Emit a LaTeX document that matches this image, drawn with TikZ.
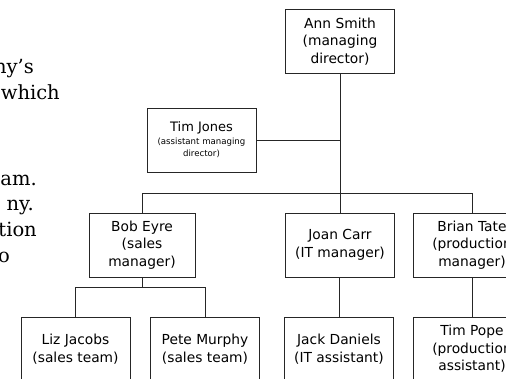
\documentclass[tikz,border=0pt]{standalone}
\usepackage{fontspec}
\newfontfamily\orgfont{DejaVu Sans}
\newfontfamily\pagefont{DejaVu Serif}
\usetikzlibrary{positioning}
\tikzset{
    person/.style = {rectangle, draw=black!85, line width=0.8pt, align=center, inner sep=0pt,
                     minimum width=109pt, minimum height=64pt, font=\orgfont\fontsize{13.8}{17.5}\selectfont},
    personw/.style = {person, minimum width=118pt},
    personsmall/.style = {person, font=\orgfont\fontsize{8.6}{12}\selectfont},
    link/.style = {draw=black!85, line width=0.8pt},
    pagetext/.style = {anchor=base east, inner sep=0pt, font=\pagefont\fontsize{19.5}{26}\selectfont}
}
\begin{document}
\begin{tikzpicture}[x=1pt, y=-1pt]
  \useasboundingbox (0,0) rectangle (506,378);
  \clip (0,0) rectangle (506,378);
  % cut-off text of the page
  \node[pagetext] (p1) at (34,73) {ny’s};
  \node[pagetext] (p2) at (60,99) {which};
  \node[pagetext] (p3) at (37,185) {am.};
  \node[pagetext] (p4) at (34,210) {ny.};
  \node[pagetext] (p5) at (37,236) {tion};
  \node[pagetext] (p6) at (10,262) {o};
  % people
  \node[person] (ann) at (340,41.5) {Ann Smith\\(managing\\director)};
  \node[personsmall] (tim) at (201.5,140) {{\fontsize{13}{15}\selectfont Tim Jones}\\[1pt](assistant managing\\director)};
  \node[person, minimum width=106pt] (bob) at (142,245) {Bob Eyre\\(sales\\manager)};
  \node[person] (joan) at (340,245) {Joan Carr\\(IT manager)};
  \node[personw] (brian) at (472,245) {Brian Tate\\(production\\manager)};
  \node[person] (liz) at (75.5,349) {Liz Jacobs\\(sales team)};
  \node[person] (pete) at (205,349) {Pete Murphy\\(sales team)};
  \node[person] (jack) at (339,349) {Jack Daniels\\(IT assistant)};
  \node[personw] (pope) at (472,349) {Tim Pope\\(production\\assistant)};
  % lines
  \coordinate (mainbar) at (340,193);
  \coordinate (salesbar) at (142,287);
  \draw[link] (ann.south) -- (mainbar);
  \draw[link] (tim.east) -- (tim.east -| ann.south);
  \draw[link] (bob.north) -- (bob.north |- mainbar) -- (brian.north |- mainbar) -- (brian.north);
  \draw[link] (joan.north) -- (joan.north |- mainbar);
  \draw[link] (bob.south) -- (salesbar);
  \draw[link] (liz.north) -- (liz.north |- salesbar) -- (pete.north |- salesbar) -- (pete.north);
  \draw[link] (joan.south) -- (joan.south -| jack.north) -- (jack.north);
  \draw[link] (brian.south) -- (pope.north);
\end{tikzpicture}
\end{document}
